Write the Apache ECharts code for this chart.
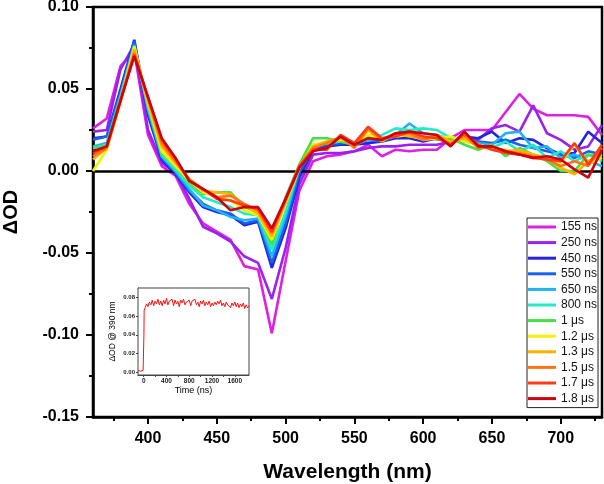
<!DOCTYPE html>
<html>
<head>
<meta charset="utf-8">
<script src="https://cdn.jsdelivr.net/npm/echarts@6/dist/echarts.min.js"></script>
<style>
  html, body { margin: 0; padding: 0; background: #fff; }
  #main { width: 604px; height: 484px; }
</style>
</head>
<body>
<div id="main"></div>
<script>
// wavelengths (nm)
var wavelengths = [360, 370, 380, 390, 400, 410, 420, 430, 440, 450, 460, 470, 480, 490, 500, 510, 520, 530, 540, 550,
  560, 570, 580, 590, 600, 610, 620, 630, 640, 650, 660, 670, 680, 690, 700, 710, 720, 730];

var seriesNames = ['155 ns', '250 ns', '450 ns', '550 ns', '650 ns', '800 ns',
  '1 \u03bcs', '1.2 \u03bcs', '1.3 \u03bcs', '1.5 \u03bcs', '1.7 \u03bcs', '1.8 \u03bcs'];

var seriesColors = ['#e020e0', '#9a22ee', '#2424dc', '#1662ee', '#1eb4f2', '#22ecc6',
  '#44e044', '#f2f200', '#ffb000', '#ff7414', '#ff3a18', '#d00010'];

// ΔOD at each wavelength, one array per delay
var od155 = [0.026, 0.032, 0.064, 0.073, 0.022, 0.003, -0.003, -0.020, -0.032, -0.037, -0.042, -0.058, -0.060, -0.099, -0.055, -0.012, 0.006, 0.009, 0.010, 0.012,
  0.016, 0.009, 0.013, 0.012, 0.013, 0.013, 0.020, 0.025, 0.025, 0.025, 0.036, 0.047, 0.038, 0.034, 0.034, 0.034, 0.033, 0.022];
var od250 = [0.024, 0.025, 0.062, 0.077, 0.025, 0.005, -0.001, -0.017, -0.034, -0.038, -0.043, -0.052, -0.056, -0.078, -0.047, -0.008, 0.010, 0.011, 0.011, 0.012,
  0.014, 0.015, 0.015, 0.016, 0.016, 0.016, 0.018, 0.019, 0.019, 0.026, 0.028, 0.024, 0.040, 0.023, 0.019, 0.013, 0.015, 0.028];
var od450 = [0.020, 0.021, 0.050, 0.080, 0.034, 0.007, -0.002, -0.013, -0.022, -0.025, -0.027, -0.033, -0.031, -0.059, -0.035, -0.004, 0.013, 0.015, 0.016, 0.016,
  0.017, 0.018, 0.020, 0.020, 0.018, 0.020, 0.019, 0.021, 0.020, 0.024, 0.017, 0.020, 0.019, 0.014, 0.010, 0.011, 0.024, 0.017];
var od550 = [0.019, 0.021, 0.048, 0.079, 0.036, 0.008, -0.001, -0.012, -0.020, -0.024, -0.026, -0.032, -0.030, -0.056, -0.032, -0.001, 0.014, 0.016, 0.017, 0.017,
  0.019, 0.018, 0.021, 0.022, 0.020, 0.021, 0.019, 0.020, 0.018, 0.017, 0.019, 0.016, 0.014, 0.012, 0.010, 0.008, 0.012, 0.010];
var od650 = [0.015, 0.017, 0.046, 0.077, 0.038, 0.009, 0.000, -0.011, -0.021, -0.024, -0.028, -0.030, -0.029, -0.052, -0.028, 0.002, 0.015, 0.017, 0.018, 0.016,
  0.019, 0.020, 0.022, 0.029, 0.023, 0.022, 0.019, 0.018, 0.017, 0.016, 0.023, 0.024, 0.014, 0.015, 0.008, 0.010, 0.006, 0.003];
var od800 = [0.014, 0.016, 0.045, 0.076, 0.039, 0.010, 0.001, -0.009, -0.016, -0.019, -0.022, -0.026, -0.027, -0.048, -0.025, 0.003, 0.016, 0.017, 0.018, 0.017,
  0.020, 0.022, 0.026, 0.025, 0.026, 0.025, 0.020, 0.019, 0.016, 0.014, 0.018, 0.012, 0.016, 0.008, 0.012, 0.006, 0.010, 0.006];
var od1000 = [0.014, 0.015, 0.044, 0.075, 0.040, 0.011, 0.003, -0.007, -0.014, -0.013, -0.013, -0.022, -0.025, -0.045, -0.016, 0.004, 0.020, 0.020, 0.018, 0.016,
  0.021, 0.019, 0.022, 0.022, 0.021, 0.019, 0.020, 0.016, 0.013, 0.016, 0.009, 0.014, 0.010, 0.006, 0.000, 0.000, 0.010, 0.009];
var od1200 = [0.000, 0.013, 0.043, 0.076, 0.041, 0.012, 0.003, -0.006, -0.013, -0.016, -0.018, -0.024, -0.027, -0.042, -0.020, 0.002, 0.016, 0.018, 0.019, 0.017,
  0.022, 0.020, 0.021, 0.022, 0.019, 0.020, 0.021, 0.018, 0.016, 0.014, 0.013, 0.011, 0.010, 0.008, 0.005, 0.016, 0.004, 0.008];
var od1300 = [0.007, 0.014, 0.043, 0.074, 0.042, 0.015, 0.005, -0.005, -0.012, -0.013, -0.014, -0.021, -0.026, -0.040, -0.019, 0.003, 0.015, 0.018, 0.020, 0.015,
  0.025, 0.018, 0.023, 0.021, 0.020, 0.022, 0.018, 0.020, 0.015, 0.014, 0.012, 0.013, 0.010, 0.008, 0.002, -0.002, 0.006, 0.010];
var od1500 = [0.009, 0.014, 0.042, 0.072, 0.044, 0.017, 0.006, -0.005, -0.011, -0.016, -0.015, -0.020, -0.024, -0.038, -0.018, 0.003, 0.014, 0.017, 0.021, 0.014,
  0.026, 0.019, 0.022, 0.023, 0.019, 0.021, 0.016, 0.022, 0.014, 0.015, 0.012, 0.011, 0.009, 0.007, 0.003, 0.006, 0.003, 0.014];
var od1700 = [0.011, 0.015, 0.043, 0.071, 0.045, 0.019, 0.007, -0.006, -0.011, -0.017, -0.018, -0.021, -0.023, -0.037, -0.017, 0.003, 0.013, 0.013, 0.022, 0.017,
  0.027, 0.020, 0.021, 0.024, 0.021, 0.020, 0.016, 0.023, 0.016, 0.013, 0.011, 0.010, 0.008, 0.007, 0.006, 0.017, 0.004, 0.016];
var od1800 = [0.012, 0.015, 0.043, 0.070, 0.045, 0.020, 0.008, -0.006, -0.011, -0.016, -0.024, -0.022, -0.022, -0.035, -0.017, 0.002, 0.012, 0.014, 0.021, 0.016,
  0.020, 0.019, 0.023, 0.024, 0.023, 0.022, 0.015, 0.024, 0.015, 0.015, 0.012, 0.010, 0.008, 0.009, 0.007, 0.001, -0.004, 0.013];

var odList = [od155, od250, od450, od550, od650, od800, od1000, od1200, od1300, od1500, od1700, od1800];

// tick labels
var xMajor = [400, 450, 500, 550, 600, 650, 700];
var xMinor = [375, 425, 475, 525, 575, 625, 675, 725];
var insetXTicks = [0, 400, 800, 1200, 1600];
var insetYTicks = [0, 0.02, 0.04, 0.06, 0.08];

// inset: ΔOD @ 390 nm vs time (ns)
var insetTime = [-100, -85, -70, -55, -40, -25, -10, 0, 4, 8, 15,
  25, 50, 75, 100, 125, 150, 175, 200, 225, 250, 275, 300, 325, 350, 375, 400, 425, 450, 475, 500,
  525, 550, 575, 600, 625, 650, 675, 700, 725, 750, 775, 800, 825, 850, 875, 900, 925, 950, 975, 1000,
  1025, 1050, 1075, 1100, 1125, 1150, 1175, 1200, 1225, 1250, 1275, 1300, 1325, 1350, 1375, 1400, 1425, 1450, 1475, 1500,
  1525, 1550, 1575, 1600, 1625, 1650, 1675, 1700, 1725, 1750, 1775, 1800, 1825, 1850];
var insetOD = [0.002, 0.001, 0.003, 0.001, 0.002, 0.000, 0.002, 0.003, 0.040, 0.066, 0.068,
  0.069, 0.073, 0.070, 0.075, 0.072, 0.077, 0.071, 0.076, 0.073, 0.078, 0.072, 0.076, 0.071, 0.077, 0.073, 0.079, 0.072, 0.076, 0.074, 0.078,
  0.071, 0.077, 0.073, 0.076, 0.070, 0.077, 0.074, 0.078, 0.072, 0.075, 0.073, 0.077, 0.071, 0.076, 0.074, 0.078, 0.072, 0.075, 0.070, 0.076,
  0.073, 0.077, 0.071, 0.075, 0.072, 0.076, 0.070, 0.074, 0.071, 0.075, 0.072, 0.076, 0.073, 0.077, 0.071, 0.074, 0.070, 0.075, 0.072, 0.074,
  0.069, 0.074, 0.071, 0.075, 0.070, 0.074, 0.069, 0.073, 0.070, 0.074, 0.068, 0.072, 0.069, 0.071];

var myChart = echarts.init(document.getElementById('main'));

var FONT = 'Arial, "Liberation Sans", sans-serif';

var series = [];
// zero line
series.push({
  type: 'line',
  xAxisIndex: 0,
  yAxisIndex: 0,
  data: [],
  silent: true,
  z: 1,
  markLine: {
    silent: true,
    symbol: 'none',
    label: { show: false },
    lineStyle: { color: '#000', width: 2.5, type: 'solid' },
    data: [{ yAxis: 0 }]
  }
});
for (var i = 0; i < odList.length; i++) {
  series.push({
    name: seriesNames[i],
    type: 'line',
    xAxisIndex: 0,
    yAxisIndex: 0,
    symbol: 'none',
    z: 2 + i,
    lineStyle: { color: seriesColors[i], width: 2.6 },
    itemStyle: { color: seriesColors[i] },
    data: wavelengths.map(function (w, k) { return [w, odList[i][k]]; })
  });
}
// inset trace
series.push({
  type: 'line',
  xAxisIndex: 2,
  yAxisIndex: 1,
  symbol: 'none',
  silent: true,
  z: 20,
  lineStyle: { color: '#ff1010', width: 1 },
  data: insetTime.map(function (t, k) { return [t, insetOD[k]]; })
});

var option = {
  animation: false,
  backgroundColor: '#fff',
  textStyle: { fontFamily: FONT },
  grid: [
    { left: 93, top: 7, right: 2, bottom: 67, show: true, borderColor: '#000', borderWidth: 2.5,
      containLabel: false, outerBoundsMode: 'none' },
    { left: 138, top: 288, width: 111, height: 87, show: true, backgroundColor: '#fff', borderColor: '#444', borderWidth: 1,
      containLabel: false, outerBoundsMode: 'none', z: 10 }
  ],
  legend: {
    orient: 'vertical',
    left: 527,
    top: 218,
    padding: [2, 1, 2, 1],
    itemWidth: 28,
    itemHeight: 3,
    itemGap: 1.6,
    icon: 'rect',
    backgroundColor: '#fff',
    borderColor: '#222',
    borderWidth: 1,
    borderRadius: 0,
    data: seriesNames,
    textStyle: { fontFamily: FONT, fontSize: 12, color: '#111', lineHeight: 14 }
  },
  xAxis: [
    {
      gridIndex: 0,
      type: 'value',
      min: 360,
      max: 730,
      position: 'bottom',
      name: 'Wavelength (nm)',
      nameLocation: 'middle',
      nameGap: 45,
      nameTextStyle: { fontFamily: FONT, fontSize: 21, fontWeight: 'bold', color: '#000' },
      axisLine: { show: true, onZero: false, lineStyle: { color: '#000', width: 2.5 } },
      axisTick: { show: true, inside: false, length: 7, customValues: xMajor, lineStyle: { color: '#000', width: 2 } },
      axisLabel: { show: true, margin: 14, customValues: xMajor, fontFamily: FONT, fontSize: 16, fontWeight: 'bold', color: '#000' },
      splitLine: { show: false }
    },
    {
      gridIndex: 0,
      type: 'value',
      min: 360,
      max: 730,
      position: 'bottom',
      axisLine: { show: false, onZero: false },
      axisTick: { show: true, inside: false, length: 4, customValues: xMinor, lineStyle: { color: '#000', width: 2 } },
      axisLabel: { show: false },
      splitLine: { show: false }
    },
    {
      gridIndex: 1,
      type: 'value',
      min: -100,
      max: 1850,
      position: 'bottom',
      name: 'Time (ns)',
      nameLocation: 'middle',
      nameGap: 11,
      nameTextStyle: { fontFamily: FONT, fontSize: 9, color: '#000' },
      axisLine: { show: true, onZero: false, lineStyle: { color: '#444', width: 1 } },
      axisTick: { show: true, length: 2, customValues: [0, 200, 400, 600, 800, 1000, 1200, 1400, 1600], lineStyle: { color: '#444' } },
      axisLabel: { show: true, margin: 3, customValues: insetXTicks, fontFamily: FONT, fontSize: 6.5, fontWeight: 'bold', color: '#222',
        formatter: function (v) { return String(v); } },
      splitLine: { show: false }
    }
  ],
  yAxis: [
    {
      gridIndex: 0,
      type: 'value',
      min: -0.15,
      max: 0.10,
      interval: 0.05,
      position: 'left',
      name: '\u0394OD',
      nameLocation: 'middle',
      nameGap: 72,
      nameTextStyle: { fontFamily: FONT, fontSize: 20, fontWeight: 'bold', color: '#000' },
      axisLine: { show: true, onZero: false, lineStyle: { color: '#000', width: 2.5 } },
      axisTick: { show: true, inside: false, length: 7, lineStyle: { color: '#000', width: 2 } },
      minorTick: { show: true, splitNumber: 2, length: 4, lineStyle: { color: '#000', width: 2 } },
      axisLabel: { show: true, margin: 14, fontFamily: FONT, fontSize: 16, fontWeight: 'bold', color: '#000',
        formatter: function (v) { return v.toFixed(2); } },
      splitLine: { show: false }
    },
    {
      gridIndex: 1,
      type: 'value',
      min: -0.003,
      max: 0.09,
      position: 'left',
      name: '\u0394OD @ 390 nm',
      nameLocation: 'middle',
      nameGap: 21,
      nameTextStyle: { fontFamily: FONT, fontSize: 8.5, color: '#000' },
      axisLine: { show: true, onZero: false, lineStyle: { color: '#444', width: 1 } },
      axisTick: { show: true, length: 2, customValues: insetYTicks, lineStyle: { color: '#444' } },
      axisLabel: { show: true, margin: 3, customValues: insetYTicks, fontFamily: FONT, fontSize: 6, fontWeight: 'bold', color: '#222',
        formatter: function (v) { return v.toFixed(2); } },
      splitLine: { show: false }
    }
  ],
  series: series
};

myChart.setOption(option);
</script>
</body>
</html>
